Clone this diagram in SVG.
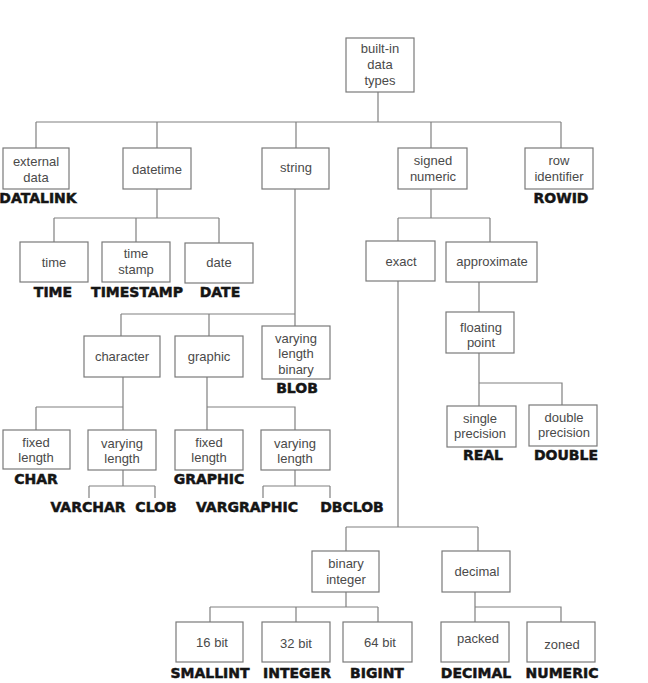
<svg xmlns="http://www.w3.org/2000/svg" width="648" height="683" viewBox="0 0 648 683">
<style>
.bg{fill:#ffffff}
.box{fill:#ffffff;stroke:#7a7a7a;stroke-width:1.2}
.ln{fill:none;stroke:#808080;stroke-width:1.2}
.t{font-family:"Liberation Sans",Arial,sans-serif;font-size:13px;fill:#4a4a4a;text-anchor:middle}
.b{font-family:"DejaVu Sans","Liberation Sans",sans-serif;font-weight:bold;font-size:14px;fill:#151515;stroke:#151515;stroke-width:0.5;text-anchor:middle}
</style>
<rect class="bg" x="0" y="0" width="648" height="683"/>
<g id="connectors">
<path class="ln" d="M378 92V122M36 122H561M36 122V148M157 122V148M296 122V148M431 122V148M561 122V148"/>
<path class="ln" d="M157 189V218M54 218H219M54 218V242M136 218V242M219 218V243"/>
<path class="ln" d="M295 189V326M121 314H295M121 314V336M209 314V336"/>
<path class="ln" d="M123 377V407M36 407H123M36 407V430M123 407V430"/>
<path class="ln" d="M207 377V407H295V430M207 407V430"/>
<path class="ln" d="M123 470V486M89 486H155M89 486V498M155 486V498"/>
<path class="ln" d="M295 470V486M263 486H330M263 486V498M330 486V498"/>
<path class="ln" d="M431 189V218M398 218H490M398 218V241M490 218V242"/>
<path class="ln" d="M479 282V312M479 353V383H562V405M479 383V406"/>
<path class="ln" d="M398 281V527M346 527H478M346 527V551M478 527V551"/>
<path class="ln" d="M346 592V607M210 607H378M210 607V622M296 607V622M378 607V622"/>
<path class="ln" d="M475 592V607H561V622M475 607V622"/>
</g>
<g id="root"><rect class="box" x="346" y="38" width="68" height="54"/><text class="t" x="380" y="53">built-in</text><text class="t" x="380" y="69">data</text><text class="t" x="380" y="85">types</text></g>
<g id="external"><rect class="box" x="3" y="148" width="66" height="41"/><text class="t" x="36" y="166">external</text><text class="t" x="36" y="182">data</text><text class="b" x="38" y="203">DATALINK</text></g>
<g id="datetime"><rect class="box" x="123" y="148" width="68" height="41"/><text class="t" x="157" y="173.5">datetime</text></g>
<g id="string"><rect class="box" x="262" y="148" width="67" height="41"/><text class="t" x="296" y="172">string</text></g>
<g id="signed"><rect class="box" x="398" y="148" width="69" height="41"/><text class="t" x="433" y="165">signed</text><text class="t" x="433" y="181">numeric</text></g>
<g id="rowid"><rect class="box" x="525" y="148" width="68" height="41"/><text class="t" x="559" y="165">row</text><text class="t" x="559" y="181">identifier</text><text class="b" x="561" y="203">ROWID</text></g>
<g id="time"><rect class="box" x="20" y="242" width="68" height="40"/><text class="t" x="54" y="266.5">time</text><text class="b" x="53" y="297">TIME</text></g>
<g id="timestamp"><rect class="box" x="102" y="242" width="68" height="40"/><text class="t" x="136" y="257.5">time</text><text class="t" x="136" y="273.5">stamp</text><text class="b" x="137" y="297">TIMESTAMP</text></g>
<g id="date"><rect class="box" x="185" y="243" width="68" height="40"/><text class="t" x="219" y="266.5">date</text><text class="b" x="220" y="297">DATE</text></g>
<g id="character"><rect class="box" x="84" y="336" width="76" height="41"/><text class="t" x="122" y="360.5">character</text></g>
<g id="graphic"><rect class="box" x="175" y="336" width="68" height="41"/><text class="t" x="209" y="360.5">graphic</text></g>
<g id="vlbinary"><rect class="box" x="262" y="326" width="68" height="53"/><text class="t" x="296" y="342.5">varying</text><text class="t" x="296" y="357.5">length</text><text class="t" x="296" y="373.5">binary</text><text class="b" x="297" y="393">BLOB</text></g>
<g id="charfixed"><rect class="box" x="3" y="430" width="67" height="39"/><text class="t" x="36" y="446.5">fixed</text><text class="t" x="36" y="461.5">length</text><text class="b" x="36" y="484">CHAR</text></g>
<g id="charvarying"><rect class="box" x="88" y="430" width="68" height="40"/><text class="t" x="122" y="447.5">varying</text><text class="t" x="122" y="462.5">length</text></g>
<g id="graphfixed"><rect class="box" x="175" y="430" width="68" height="40"/><text class="t" x="209" y="446.5">fixed</text><text class="t" x="209" y="461.5">length</text><text class="b" x="209" y="484">GRAPHIC</text></g>
<g id="graphvarying"><rect class="box" x="261" y="430" width="69" height="40"/><text class="t" x="295" y="447.5">varying</text><text class="t" x="295" y="462.5">length</text></g>
<g id="varchar"><text class="b" x="88" y="512">VARCHAR</text></g>
<g id="clob"><text class="b" x="156" y="512">CLOB</text></g>
<g id="vargraphic"><text class="b" x="247" y="512">VARGRAPHIC</text></g>
<g id="dbclob"><text class="b" x="352" y="512">DBCLOB</text></g>
<g id="exact"><rect class="box" x="366" y="241" width="69" height="40"/><text class="t" x="401" y="265.5">exact</text></g>
<g id="approximate"><rect class="box" x="446" y="242" width="91" height="40"/><text class="t" x="492" y="265.5">approximate</text></g>
<g id="floating"><rect class="box" x="446" y="312" width="68" height="41"/><text class="t" x="481" y="331.5">floating</text><text class="t" x="481" y="346.5">point</text></g>
<g id="single"><rect class="box" x="447" y="406" width="69" height="41"/><text class="t" x="480" y="422.5">single</text><text class="t" x="480" y="437.5">precision</text><text class="b" x="483" y="460">REAL</text></g>
<g id="double"><rect class="box" x="529" y="405" width="68" height="41"/><text class="t" x="564" y="421.5">double</text><text class="t" x="564" y="436.5">precision</text><text class="b" x="566" y="460">DOUBLE</text></g>
<g id="binary"><rect class="box" x="312" y="551" width="67" height="41"/><text class="t" x="346" y="567.5">binary</text><text class="t" x="346" y="583.5">integer</text></g>
<g id="decimal"><rect class="box" x="442" y="551" width="68" height="41"/><text class="t" x="477" y="575.5">decimal</text></g>
<g id="bit16"><rect class="box" x="176" y="622" width="67" height="40"/><text class="t" x="212" y="646.5">16 bit</text><text class="b" x="210" y="678">SMALLINT</text></g>
<g id="bit32"><rect class="box" x="262" y="622" width="68" height="40"/><text class="t" x="296" y="647.5">32 bit</text><text class="b" x="297" y="678">INTEGER</text></g>
<g id="bit64"><rect class="box" x="343" y="622" width="69" height="40"/><text class="t" x="380" y="646.5">64 bit</text><text class="b" x="377" y="678">BIGINT</text></g>
<g id="packed"><rect class="box" x="441" y="622" width="68" height="40"/><text class="t" x="478" y="642.5">packed</text><text class="b" x="476" y="678">DECIMAL</text></g>
<g id="zoned"><rect class="box" x="527" y="622" width="68" height="40"/><text class="t" x="562" y="648.5">zoned</text><text class="b" x="562" y="678">NUMERIC</text></g>
</svg>
